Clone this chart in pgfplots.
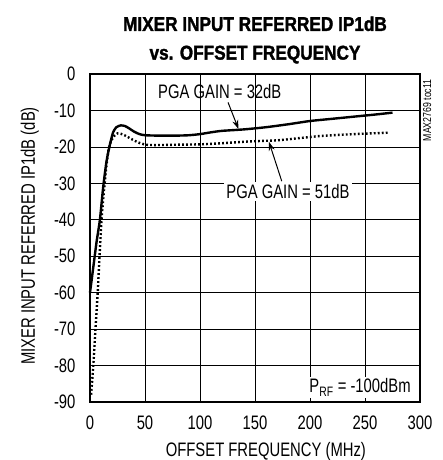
\documentclass[border=0pt]{standalone}
\usepackage{fontspec}
\setmainfont{Liberation Sans}[FakeStretch=0.76]
\newfontfamily\titlefont{Liberation Sans}[FakeStretch=0.86, FakeBold=1.5]
\usepackage{pgfplots}
\pgfplotsset{compat=1.18}
\usetikzlibrary{arrows.meta}

\begin{document}
\begin{tikzpicture}[font=\fontsize{19.5}{23}\selectfont]
\useasboundingbox (-90pt,-58pt) rectangle (353pt,402pt);
\begin{axis}[
    at={(0,0)}, anchor=south west,
    scale only axis, width=330pt, height=328pt,
    xmin=0, xmax=300, ymin=-90, ymax=0,
    xtick={0,50,...,300}, ytick={-90,-80,...,0},
    grid=major, major grid style={black, line width=0.6pt},
    axis line style={line width=2.4pt},
    major tick length=0pt,
    clip=false,
    /pgf/number format/assume math mode=true,
    ticklabel style={font=\fontsize{19.5}{23}\selectfont},
    xticklabel style={yshift=-10pt},
    yticklabel style={xshift=-11pt},
    xlabel={OFFSET FREQUENCY (MHz)},
    ylabel={MIXER INPUT REFERRED IP1dB (dB)},
    label style={font=\fontsize{19.5}{23}\selectfont},
    every axis x label/.style={at={(axis description cs:0.533,-0.152)}, anchor=center},
    every axis y label/.style={at={(axis description cs:-0.182,0.506)}, rotate=90, anchor=center},
  ]
  % PGA gain = 32dB
  \addplot[black, line width=2.4pt, smooth, tension=0.4] coordinates {
    (0,-60) (3,-53) (6,-46) (9,-40) (12,-31) (15,-24) (18,-19.5) (21,-16)
    (24,-14.6) (28,-14.1) (32,-14.3) (36,-15) (40,-15.8) (45,-16.5) (50,-16.8)
    (60,-16.9) (70,-16.9) (80,-16.9) (90,-16.8) (100,-16.5) (110,-16) (120,-15.6)
    (140,-15.2) (160,-14.6) (180,-13.8) (200,-12.9) (220,-12.3) (240,-11.7)
    (260,-11.1) (275,-10.6)};
  % PGA gain = 51dB
  \addplot[black, line width=2.4pt, dash pattern=on 1.8pt off 2.2pt, smooth, tension=0.4] coordinates {
    (1,-88) (3,-80) (5,-70) (7,-60) (9,-48) (11,-38) (13,-31) (15,-25)
    (17,-20.5) (19,-18.5) (22,-17) (25,-16.3) (28,-16.4) (32,-16.9) (38,-17.9)
    (44,-18.8) (51,-19.4) (60,-19.5) (80,-19.4) (100,-19.3) (120,-19) (145,-18.5)
    (170,-18.2) (190,-17.6) (210,-17) (240,-16.5) (272,-16.1)};

  \node at (axis cs:118,-4.8) {PGA GAIN = 32dB};
  \draw[-{Stealth[length=9pt,width=6pt]}, line width=1pt] (axis cs:125.5,-7.8) -- (axis cs:135,-15.1);
  \node[fill=white, inner sep=2pt] at (axis cs:180,-32.2) {PGA GAIN = 51dB};
  \draw[-{Stealth[length=9pt,width=6pt]}, line width=1pt] (axis cs:174.3,-29.4) -- (axis cs:162.7,-18.6);
  \node[fill=white, inner sep=2pt] at (axis cs:245.5,-86) {P\textsubscript{RF} = -100dBm};
  \node[rotate=90, font=\fontsize{11.5}{12}\selectfont] at (axis cs:306.5,-10) {MAX2769 toc11};
\end{axis}
\node[align=center, font=\titlefont\bfseries\fontsize{20}{28.7}\selectfont] at (165pt,362pt)
  {MIXER INPUT REFERRED IP1dB\\vs. OFFSET FREQUENCY};
\end{tikzpicture}
\end{document}
